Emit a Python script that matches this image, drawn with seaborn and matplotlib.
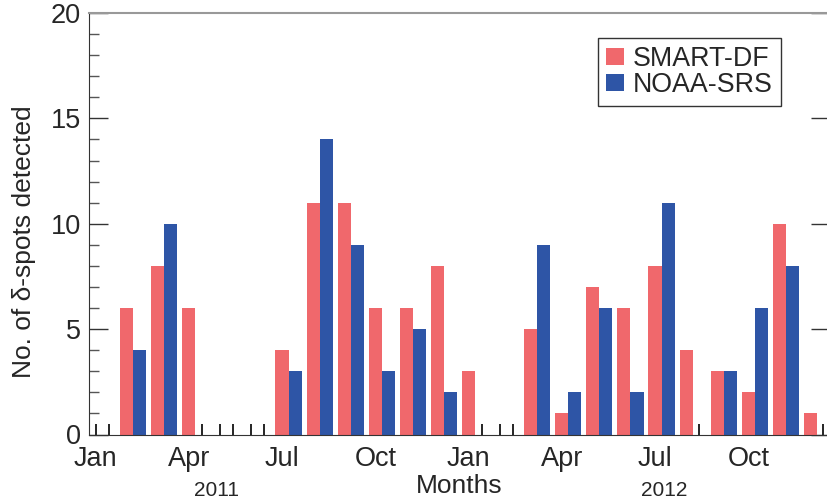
import pandas as pd
import matplotlib
matplotlib.use("Agg")
import matplotlib.pyplot as plt
from matplotlib.ticker import MultipleLocator
import seaborn as sns

# monthly counts of delta-spots, Jan 2011 .. Dec 2012
month_names = ['Jan', 'Feb', 'Mar', 'Apr', 'May', 'Jun',
               'Jul', 'Aug', 'Sep', 'Oct', 'Nov', 'Dec']
years = [2011, 2012]
months = [f"{m} {y}" for y in years for m in month_names]
smart_df = [0, 6, 8, 6, 0, 0, 4, 11, 11, 6, 6, 8,
            3, 0, 5, 1, 7, 6, 8, 4, 3, 2, 10, 1]
noaa_srs = [0, 4, 10, 0, 0, 0, 3, 14, 9, 3, 5, 2,
            0, 0, 9, 2, 6, 2, 11, 0, 3, 6, 8, 0]
series_names = ['SMART-DF', 'NOAA-SRS']
tick_names = ['Jan', 'Apr', 'Jul', 'Oct']

df = pd.DataFrame({
    'month': months * 2,
    'count': smart_df + noaa_srs,
    'source': [series_names[0]] * len(months) + [series_names[1]] * len(months),
})

sns.set_style("ticks")
plt.rcParams['font.family'] = ['Liberation Sans', 'DejaVu Sans']

fig = plt.figure(figsize=(8.27, 5.03), dpi=100)
ax = fig.add_axes([89 / 827, 68.5 / 503, 741 / 827, 421.5 / 503])

sns.barplot(data=df, x='month', y='count', hue='source', order=months,
            hue_order=series_names, palette=['#F0686C', '#2E55A6'],
            width=0.84, saturation=1, linewidth=0, ax=ax)

ax.set_xlim(-0.42, len(months) - 0.58)
ax.set_ylim(0, 20)

# ticks at every bar centre, labels on Jan/Apr/Jul/Oct of each year
positions = []
labels = []
for i, m in enumerate(months):
    positions += [i - 0.21, i + 0.21]
    name = m.split()[0]
    labels += [name if name in tick_names else '', '']
ax.set_xticks(positions)
ax.set_xticklabels(labels)
ax.tick_params(axis='x', direction='in', length=8, width=1.2, color='black',
               labelsize=19.5, pad=8)

ax.yaxis.set_major_locator(MultipleLocator(5))
ax.yaxis.set_minor_locator(MultipleLocator(1))
ax.tick_params(axis='y', which='major', direction='in', length=14, width=1,
               labelsize=19.5, pad=6, right=True, color='#333333')
ax.tick_params(axis='y', which='minor', direction='in', length=7, width=1,
               right=False, color='#555555')

ax.spines['left'].set_color('#333333')
ax.spines['bottom'].set_color('#333333')
ax.spines['top'].set_color('#999999')
ax.spines['top'].set_linewidth(1.5)
ax.spines['right'].set_visible(False)

ax.set_ylabel('')
ax.set_xlabel('Months', fontsize=19, labelpad=2)
fig.text(24 / 827, 1 - 242 / 503, 'No. of δ-spots detected', rotation=90,
         ha='center', va='center', fontsize=19)
fig.text(216 / 827, 1 - 491 / 503, '2011', ha='center', va='center', fontsize=15)
fig.text(664 / 827, 1 - 491 / 503, '2012', ha='center', va='center', fontsize=15)

leg = ax.legend(loc='upper right', bbox_to_anchor=(0.934, 0.941), fontsize=19.3,
                frameon=True, fancybox=False, handlelength=0.65, handleheight=0.65,
                handletextpad=0.35, labelspacing=0.0, borderpad=0.3,
                borderaxespad=0)
leg.get_frame().set_edgecolor('black')
leg.get_frame().set_linewidth(1)

fig.savefig('out.png', dpi=100)
